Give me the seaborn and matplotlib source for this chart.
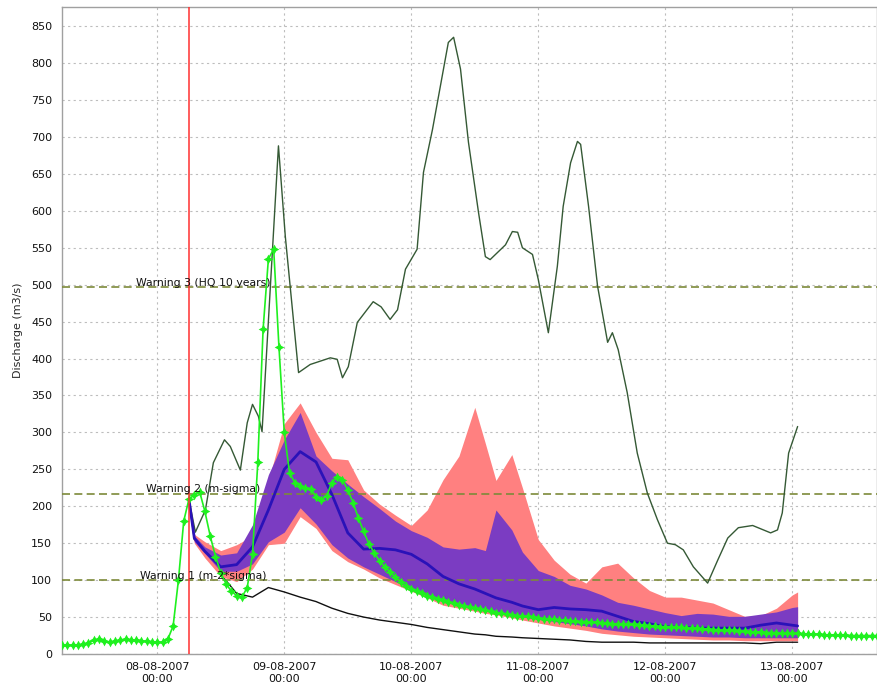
import numpy as np
import pandas as pd
import matplotlib
matplotlib.use("Agg")
import matplotlib.pyplot as plt
import matplotlib.dates as mdates
import seaborn as sns

# ---- time reference -------------------------------------------------------
base = pd.Timestamp("2007-08-08 00:00")

# Observed discharge, hourly, from 07-08 06:00 (hour -18) to 13-08 16:00 (hour 136)
obs_start_hour = -18
observed = [
    12, 12, 12, 12, 13, 15, 19, 20, 18, 16, 17, 19, 20, 19, 19, 18, 17, 16,
    16, 16, 20, 38, 100, 180, 210, 215, 220, 193,
    160, 132, 110, 95, 85, 79, 77, 90, 135, 260,
    440, 535, 548, 415, 300, 245, 232, 228, 225, 224,
    213, 209, 214, 232, 240, 236, 222, 205, 184, 166,
    149, 137, 126, 118, 111, 104, 98, 92, 88, 85,
    82, 79, 77, 75, 73, 71, 69, 67, 65, 64,
    62, 61, 59, 58, 56, 55, 54, 53, 52, 51,
    51, 50, 49, 48, 47, 47, 46, 46, 45, 45,
    44, 44, 43, 43, 42, 42, 41, 41, 40, 40,
    40, 39, 39, 38, 38, 37, 37, 37, 36, 36,
    35, 35, 35, 34, 34, 33, 33, 32, 32, 32,
    31, 31, 30, 30, 30, 29, 29, 29, 28, 28,
    28, 28, 27, 27, 27, 27, 26, 26, 26, 26,
    26, 25, 25, 25, 25, 25, 25,
]

# Ensemble forecast, issued 08-08 06:00 (hours after 08-08 00:00)
fc_hours = [6, 7, 9, 12, 15, 18, 21, 24, 27, 30, 33, 36, 39, 42, 45, 48, 51, 54,
            57, 60, 62, 64, 67, 69, 72, 75, 78, 81, 84, 87, 90, 93, 96, 99, 102,
            105, 108, 111, 114, 117, 120, 121]

band_outer_lo = [209, 150, 130, 105, 98, 115, 148, 150, 186, 170, 140, 125, 115, 103,
                 94, 85, 76, 66, 62, 58, 55, 53, 49, 46, 42, 38, 35, 32, 28, 26, 24,
                 23, 22, 21, 20, 19, 19, 18, 18, 18, 18, 18]
band_outer_hi = [209, 162, 152, 140, 148, 160, 235, 312, 340, 300, 265, 263, 222, 203,
                 188, 174, 195, 236, 268, 334, 285, 235, 270, 225, 155, 127, 108, 96,
                 118, 123, 103, 86, 77, 77, 73, 69, 60, 51, 52, 62, 80, 84]
band_inner_lo = [209, 152, 136, 112, 112, 122, 152, 165, 198, 176, 148, 130, 118, 108,
                 98, 88, 79, 72, 68, 64, 60, 57, 53, 50, 47, 44, 41, 38, 34, 31, 29,
                 27, 26, 25, 24, 23, 23, 22, 22, 22, 22, 22]
band_inner_hi = [209, 160, 145, 134, 137, 175, 243, 290, 327, 268, 248, 230, 213, 197,
                 180, 167, 158, 145, 142, 144, 140, 195, 168, 138, 113, 105, 93, 88,
                 80, 70, 66, 61, 56, 52, 55, 54, 51, 51, 54, 57, 63, 64]
median = [209, 157, 139, 118, 121, 145, 195, 250, 274, 260, 216, 164, 142, 143, 141,
          135, 122, 105, 95, 88, 82, 76, 70, 65, 60, 63, 61, 60, 58, 51, 44, 41, 37,
          36, 35, 35, 35, 35, 39, 42, 39, 38]
lower_run = [209, 155, 138, 108, 82, 77, 90, 84, 77, 71, 62, 55, 50, 46, 43, 40, 36,
             33, 30, 27, 26, 24, 23, 22, 21, 20, 19, 17, 16, 16, 16, 15, 15, 15, 15,
             15, 15, 15, 14, 16, 16, 16]

# Highest ensemble run (its own time steps)
upper_hours = [6.0, 7.2, 9.1, 10.6, 12.7, 13.8, 15.7, 17.0, 18.0, 19.1, 19.8, 22.9,
               24.2, 26.7, 28.9, 32.7, 34.0, 35.0, 36.1, 37.8, 40.8, 42.3, 44.0, 45.4,
               46.9, 49.1, 50.3, 52.0, 55.0, 56.0, 57.3, 58.8, 60.7, 62.0, 62.9, 65.8,
               67.1, 68.1, 69.0, 70.9, 72.0, 73.9, 75.6, 76.7, 78.1, 79.4, 80.0, 81.5,
               83.2, 85.1, 86.0, 87.1, 88.8, 90.7, 92.6, 94.5, 96.4, 97.9, 99.4, 101.3,
               104.0, 105.9, 107.8, 109.8, 112.5, 115.9, 117.2, 118.1, 119.3, 121.0]
upper_run = [209, 165, 195, 259, 290, 281, 249, 313, 338, 322, 301, 688,
             565, 381, 392, 401, 399, 374, 389, 449, 477, 470, 453, 466,
             521, 548, 652, 710, 828, 835, 792, 693, 598, 538, 534, 554,
             572, 571, 550, 541, 507, 435, 525, 606, 665, 694, 690, 606,
             498, 422, 435, 412, 354, 272, 218, 182, 150, 148, 141, 118,
             96, 127, 157, 171, 174, 164, 168, 191, 272, 308]

# Warning levels
warn_values = [100, 217, 497]
warn_labels = ["Warning 1 (m-2*sigma)", "Warning 2 (m-sigma)", "Warning 3 (HQ 10 years)"]

# ---- build frames -----------------------------------------------------------
def to_time(hours):
    return base + pd.to_timedelta(np.asarray(hours, dtype=float), unit="h")

obs_df = pd.DataFrame({
    "time": to_time(np.arange(len(observed)) + obs_start_hour),
    "discharge": observed,
})
fc_df = pd.DataFrame({
    "time": to_time(fc_hours),
    "outer_lo": band_outer_lo, "outer_hi": band_outer_hi,
    "inner_lo": band_inner_lo, "inner_hi": band_inner_hi,
    "median": median, "lower": lower_run,
})
up_df = pd.DataFrame({"time": to_time(upper_hours), "discharge": upper_run})

# ---- style -----------------------------------------------------------------
sns.set_style("white")
plt.rcParams["font.family"] = ["DejaVu Sans"]
plt.rcParams["font.size"] = 8

fig = plt.figure(figsize=(8.78, 6.91), dpi=100)
ax = fig.add_axes([62 / 878, 1 - 654 / 691, (877 - 62) / 878, (654 - 7) / 691])

# lowest run sits underneath the bands
sns.lineplot(data=fc_df, x="time", y="lower", ax=ax, color="#101010",
             lw=1.0, estimator=None, sort=False, zorder=1.5)

# ensemble bands
ax.fill_between(fc_df["time"], fc_df["outer_lo"], fc_df["outer_hi"],
                color="#FF8080", lw=0, zorder=2)
ax.fill_between(fc_df["time"], fc_df["inner_lo"], fc_df["inner_hi"],
                color="#7B3CC2", lw=0, zorder=3)

# warning thresholds
label_time = base + pd.Timedelta(hours=8.7)
for val, lab in zip(warn_values, warn_labels):
    ax.axhline(val, color="#7D8A3A", lw=1.2, ls=(0, (4.8, 2.6)), zorder=4)
    ax.annotate(lab, (label_time, val), xytext=(0, 1), textcoords="offset points",
                ha="center", va="baseline", fontsize=7.8, color="#111111", zorder=9)

# highest run and median
sns.lineplot(data=up_df, x="time", y="discharge", ax=ax, color="#355935",
             lw=1.0, estimator=None, sort=False, zorder=5)
sns.lineplot(data=fc_df, x="time", y="median", ax=ax, color="#2A12B8",
             lw=2.0, estimator=None, sort=False, zorder=6)

# observations
sns.lineplot(data=obs_df, x="time", y="discharge", ax=ax, color="#1FF01F",
             lw=1.2, marker=(4, 1, 0), markersize=7, markeredgewidth=0,
             markerfacecolor="#1FF01F", estimator=None, sort=False, zorder=7)

# forecast issue time
ax.axvline(base + pd.Timedelta(hours=6), color="#FF3030", lw=1.1, zorder=8)

# ---- axes ------------------------------------------------------------------
ax.set_xlim(base - pd.Timedelta(hours=18), base + pd.Timedelta(hours=136))
ax.set_ylim(0, 876)
ax.set_yticks(np.arange(0, 851, 50))
ax.xaxis.set_major_locator(mdates.DayLocator())
ax.xaxis.set_major_formatter(mdates.DateFormatter("%d-%m-%Y\n%H:%M"))
ax.tick_params(axis="both", length=0, labelsize=8, colors="#111111")
ax.tick_params(axis="x", pad=6)
ax.tick_params(axis="y", pad=7)
ax.set_xlabel("")
ax.set_ylabel("Discharge (m3/s)", fontsize=8, labelpad=6)
ax.grid(True, color="#BDBDBD", ls=(0, (2, 3)), lw=0.8, zorder=0)
ax.set_axisbelow(True)
for sp in ax.spines.values():
    sp.set_color("#A0A0A0")
    sp.set_linewidth(1.0)

fig.savefig("out.png", dpi=100)
